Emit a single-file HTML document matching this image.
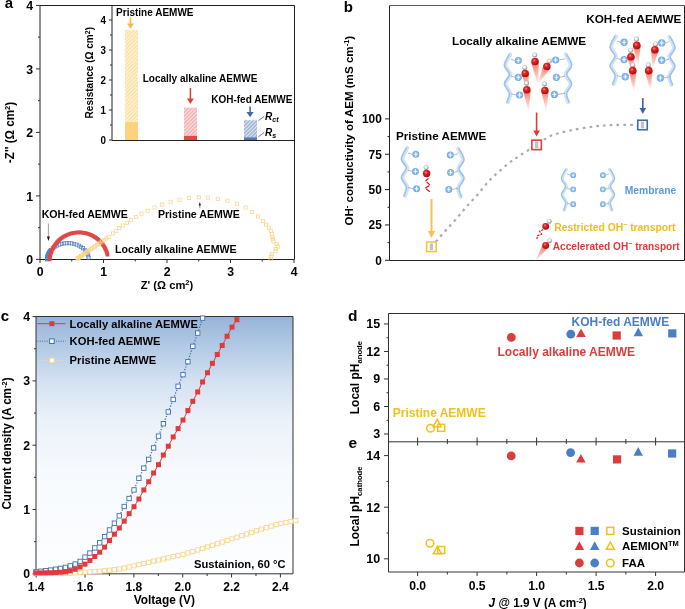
<!DOCTYPE html>
<html><head><meta charset="utf-8"><style>
html,body{margin:0;padding:0;background:#fff;overflow:hidden;}
svg{display:block;will-change:transform;}
text{font-family:"Liberation Sans",sans-serif;font-weight:bold;}
</style></head><body>
<svg width="685" height="609" viewBox="0 0 685 609">
<rect width="685" height="609" fill="#fff"/>
<defs>
<pattern id="hatchY" patternUnits="userSpaceOnUse" width="2.6" height="3" patternTransform="rotate(45)">
<rect width="3" height="3" fill="#fde3a6"/><rect width="0.9" height="3" fill="#fff6e4"/></pattern>
<pattern id="hatchR" patternUnits="userSpaceOnUse" width="2.6" height="3" patternTransform="rotate(45)">
<rect width="3" height="3" fill="#f3b4b4"/><rect width="0.9" height="3" fill="#fce8e8"/></pattern>
<pattern id="hatchB" patternUnits="userSpaceOnUse" width="2.6" height="3" patternTransform="rotate(45)">
<rect width="3" height="3" fill="#a5b8d8"/><rect width="0.9" height="3" fill="#e2e9f4"/></pattern>
<linearGradient id="bgC" x1="0" y1="0" x2="0" y2="1">
<stop offset="0" stop-color="#96b4d8"/><stop offset="0.12" stop-color="#b3cae5"/><stop offset="0.25" stop-color="#d3e1f1"/><stop offset="0.4" stop-color="#ebf1f9"/><stop offset="0.6" stop-color="#f6f9fd"/><stop offset="1" stop-color="#fdfeff"/></linearGradient>
<radialGradient id="sph" cx="0.4" cy="0.35" r="0.65">
<stop offset="0" stop-color="#ff8a8a"/><stop offset="0.35" stop-color="#e32222"/><stop offset="0.85" stop-color="#c01010"/><stop offset="1" stop-color="#8a0a0a"/></radialGradient>
<radialGradient id="hat" cx="0.42" cy="0.35" r="0.65">
<stop offset="0" stop-color="#ffffff"/><stop offset="0.4" stop-color="#f2f2f2"/><stop offset="0.75" stop-color="#bdbdbd"/><stop offset="1" stop-color="#707070"/></radialGradient>
<radialGradient id="plus" cx="0.5" cy="0.5" r="0.5">
<stop offset="0" stop-color="#92c0ef"/><stop offset="0.75" stop-color="#7cb2e9"/><stop offset="1" stop-color="#72aae5"/></radialGradient>
<linearGradient id="cone" x1="0" y1="0" x2="0" y2="1">
<stop offset="0" stop-color="#f26a50" stop-opacity="0.85"/><stop offset="1" stop-color="#f8a090" stop-opacity="0"/></linearGradient>
<linearGradient id="strandL" x1="0" y1="0" x2="1" y2="0">
<stop offset="0" stop-color="#5a98dc"/><stop offset="1" stop-color="#d4e5f7"/></linearGradient>
<linearGradient id="strandR" x1="1" y1="0" x2="0" y2="0">
<stop offset="0" stop-color="#5a98dc"/><stop offset="1" stop-color="#d4e5f7"/></linearGradient>
</defs>
<text x="4.8" y="8" font-size="15" text-anchor="start" fill="#000" >a</text>
<g stroke="#222" fill="none" stroke-width="1">
<path d="M40,5.5 H294.5 V259.5 H40 Z" />
</g>
<line x1="36" y1="259.4" x2="40" y2="259.4" stroke="#333" stroke-width="1" />
<text transform="translate(33.2,264) scale(1,1.08)" x="0" y="0" font-size="12.3" text-anchor="end" fill="#000" >0</text>
<line x1="36" y1="195.9" x2="40" y2="195.9" stroke="#333" stroke-width="1" />
<text transform="translate(33.2,200.5) scale(1,1.08)" x="0" y="0" font-size="12.3" text-anchor="end" fill="#000" >1</text>
<line x1="36" y1="132.4" x2="40" y2="132.4" stroke="#333" stroke-width="1" />
<text transform="translate(33.2,137) scale(1,1.08)" x="0" y="0" font-size="12.3" text-anchor="end" fill="#000" >2</text>
<line x1="36" y1="68.9" x2="40" y2="68.9" stroke="#333" stroke-width="1" />
<text transform="translate(33.2,73.5) scale(1,1.08)" x="0" y="0" font-size="12.3" text-anchor="end" fill="#000" >3</text>
<line x1="36" y1="5.4" x2="40" y2="5.4" stroke="#333" stroke-width="1" />
<text transform="translate(33.2,10) scale(1,1.08)" x="0" y="0" font-size="12.3" text-anchor="end" fill="#000" >4</text>
<line x1="38" y1="227.65" x2="40" y2="227.65" stroke="#333" stroke-width="1" />
<line x1="38" y1="164.15" x2="40" y2="164.15" stroke="#333" stroke-width="1" />
<line x1="38" y1="100.65" x2="40" y2="100.65" stroke="#333" stroke-width="1" />
<line x1="38" y1="37.15" x2="40" y2="37.15" stroke="#333" stroke-width="1" />
<line x1="40" y1="259.5" x2="40" y2="263" stroke="#333" stroke-width="1" />
<text transform="translate(40.2,275.6) scale(1,1.08)" x="0" y="0" font-size="12.3" text-anchor="middle" fill="#000" >0</text>
<line x1="103.5" y1="259.5" x2="103.5" y2="263" stroke="#333" stroke-width="1" />
<text transform="translate(103.7,275.6) scale(1,1.08)" x="0" y="0" font-size="12.3" text-anchor="middle" fill="#000" >1</text>
<line x1="167" y1="259.5" x2="167" y2="263" stroke="#333" stroke-width="1" />
<text transform="translate(167.2,275.6) scale(1,1.08)" x="0" y="0" font-size="12.3" text-anchor="middle" fill="#000" >2</text>
<line x1="230.5" y1="259.5" x2="230.5" y2="263" stroke="#333" stroke-width="1" />
<text transform="translate(230.7,275.6) scale(1,1.08)" x="0" y="0" font-size="12.3" text-anchor="middle" fill="#000" >3</text>
<line x1="294" y1="259.5" x2="294" y2="263" stroke="#333" stroke-width="1" />
<text transform="translate(294.2,275.6) scale(1,1.08)" x="0" y="0" font-size="12.3" text-anchor="middle" fill="#000" >4</text>
<line x1="71.75" y1="259.5" x2="71.75" y2="261.5" stroke="#333" stroke-width="1" />
<line x1="135.25" y1="259.5" x2="135.25" y2="261.5" stroke="#333" stroke-width="1" />
<line x1="198.75" y1="259.5" x2="198.75" y2="261.5" stroke="#333" stroke-width="1" />
<line x1="262.25" y1="259.5" x2="262.25" y2="261.5" stroke="#333" stroke-width="1" />
<text x="167" y="289" font-size="11.2" text-anchor="middle" fill="#000" >Z' (Ω cm<tspan dy="-4" font-size="7.5">2</tspan><tspan dy="4">)</tspan></text>
<text x="0" y="0" font-size="11.7" text-anchor="middle" fill="#000" transform="translate(13.9,132.5) rotate(-90) scale(1,1.08)">-Z'' (Ω cm<tspan dy="-4" font-size="7.5">2</tspan><tspan dy="4">)</tspan></text>
<g fill="none" stroke="#5080c6" stroke-width="0.7">
<rect x="45.51" y="257.8" width="3.2" height="3.2"/>
<rect x="45.53" y="257.1" width="3.2" height="3.2"/>
<rect x="45.59" y="256.4" width="3.2" height="3.2"/>
<rect x="45.68" y="255.71" width="3.2" height="3.2"/>
<rect x="45.82" y="255.02" width="3.2" height="3.2"/>
<rect x="45.99" y="254.34" width="3.2" height="3.2"/>
<rect x="46.19" y="253.67" width="3.2" height="3.2"/>
<rect x="46.43" y="253.02" width="3.2" height="3.2"/>
<rect x="46.71" y="252.37" width="3.2" height="3.2"/>
<rect x="47.01" y="251.74" width="3.2" height="3.2"/>
<rect x="47.35" y="251.13" width="3.2" height="3.2"/>
<rect x="47.71" y="250.53" width="3.2" height="3.2"/>
<rect x="48.1" y="249.95" width="3.2" height="3.2"/>
<rect x="48.52" y="249.39" width="3.2" height="3.2"/>
<rect x="48.96" y="248.84" width="3.2" height="3.2"/>
<rect x="49.42" y="248.32" width="3.2" height="3.2"/>
<rect x="51.24" y="246.6" width="3.2" height="3.2"/>
<rect x="53.27" y="245.14" width="3.2" height="3.2"/>
<rect x="55.46" y="243.94" width="3.2" height="3.2"/>
<rect x="57.77" y="242.99" width="3.2" height="3.2"/>
<rect x="60.16" y="242.28" width="3.2" height="3.2"/>
<rect x="62.62" y="241.81" width="3.2" height="3.2"/>
<rect x="65.1" y="241.57" width="3.2" height="3.2"/>
<rect x="67.6" y="241.57" width="3.2" height="3.2"/>
<rect x="70.09" y="241.81" width="3.2" height="3.2"/>
<rect x="72.54" y="242.28" width="3.2" height="3.2"/>
<rect x="74.94" y="242.99" width="3.2" height="3.2"/>
<rect x="77.25" y="243.95" width="3.2" height="3.2"/>
<rect x="79.44" y="245.16" width="3.2" height="3.2"/>
<rect x="81.46" y="246.62" width="3.2" height="3.2"/>
<rect x="83.28" y="248.34" width="3.2" height="3.2"/>
<rect x="84.3" y="249.57" width="3.2" height="3.2"/>
<rect x="85.19" y="250.89" width="3.2" height="3.2"/>
<rect x="85.94" y="252.31" width="3.2" height="3.2"/>
<rect x="86.53" y="253.8" width="3.2" height="3.2"/>
<rect x="87.03" y="255.93" width="3.2" height="3.2"/>
</g>
<g fill="#e04848">
<rect x="47.92" y="257.6" width="3.6" height="3.6"/>
<rect x="48.07" y="256.13" width="3.6" height="3.6"/>
<rect x="48.3" y="254.67" width="3.6" height="3.6"/>
<rect x="48.61" y="253.23" width="3.6" height="3.6"/>
<rect x="48.98" y="251.8" width="3.6" height="3.6"/>
<rect x="49.43" y="250.39" width="3.6" height="3.6"/>
<rect x="49.95" y="249.01" width="3.6" height="3.6"/>
<rect x="50.53" y="247.65" width="3.6" height="3.6"/>
<rect x="51.19" y="246.33" width="3.6" height="3.6"/>
<rect x="51.91" y="245.04" width="3.6" height="3.6"/>
<rect x="52.69" y="243.78" width="3.6" height="3.6"/>
<rect x="53.54" y="242.57" width="3.6" height="3.6"/>
<rect x="54.44" y="241.4" width="3.6" height="3.6"/>
<rect x="55.4" y="240.28" width="3.6" height="3.6"/>
<rect x="56.42" y="239.21" width="3.6" height="3.6"/>
<rect x="57.49" y="238.2" width="3.6" height="3.6"/>
<rect x="58.61" y="237.23" width="3.6" height="3.6"/>
<rect x="59.78" y="236.33" width="3.6" height="3.6"/>
<rect x="60.99" y="235.48" width="3.6" height="3.6"/>
<rect x="62.24" y="234.7" width="3.6" height="3.6"/>
<rect x="63.53" y="233.98" width="3.6" height="3.6"/>
<rect x="64.86" y="233.33" width="3.6" height="3.6"/>
<rect x="66.21" y="232.74" width="3.6" height="3.6"/>
<rect x="67.6" y="232.22" width="3.6" height="3.6"/>
<rect x="69.01" y="231.78" width="3.6" height="3.6"/>
<rect x="70.43" y="231.4" width="3.6" height="3.6"/>
<rect x="71.88" y="231.1" width="3.6" height="3.6"/>
<rect x="73.34" y="230.87" width="3.6" height="3.6"/>
<rect x="74.81" y="230.71" width="3.6" height="3.6"/>
<rect x="76.28" y="230.63" width="3.6" height="3.6"/>
<rect x="77.76" y="230.62" width="3.6" height="3.6"/>
<rect x="79.24" y="230.68" width="3.6" height="3.6"/>
<rect x="80.71" y="230.82" width="3.6" height="3.6"/>
<rect x="82.17" y="231.04" width="3.6" height="3.6"/>
<rect x="83.62" y="231.32" width="3.6" height="3.6"/>
<rect x="85.05" y="231.68" width="3.6" height="3.6"/>
<rect x="86.46" y="232.12" width="3.6" height="3.6"/>
<rect x="87.85" y="232.62" width="3.6" height="3.6"/>
<rect x="89.21" y="233.19" width="3.6" height="3.6"/>
<rect x="90.55" y="233.83" width="3.6" height="3.6"/>
<rect x="91.84" y="234.53" width="3.6" height="3.6"/>
<rect x="93.11" y="235.3" width="3.6" height="3.6"/>
<rect x="94.33" y="236.13" width="3.6" height="3.6"/>
<rect x="95.5" y="237.02" width="3.6" height="3.6"/>
<rect x="96.64" y="237.97" width="3.6" height="3.6"/>
<rect x="97.72" y="238.98" width="3.6" height="3.6"/>
<rect x="98.75" y="240.04" width="3.6" height="3.6"/>
<rect x="99.72" y="241.15" width="3.6" height="3.6"/>
<rect x="100.64" y="242.3" width="3.6" height="3.6"/>
<rect x="101.5" y="243.51" width="3.6" height="3.6"/>
<rect x="102.3" y="244.75" width="3.6" height="3.6"/>
<rect x="103.03" y="246.03" width="3.6" height="3.6"/>
<rect x="103.7" y="247.35" width="3.6" height="3.6"/>
<rect x="104.3" y="248.7" width="3.6" height="3.6"/>
<rect x="104.84" y="250.07" width="3.6" height="3.6"/>
<rect x="105.3" y="251.48" width="3.6" height="3.6"/>
<rect x="105.69" y="252.9" width="3.6" height="3.6"/>
</g>
<g fill="none" stroke="#f8d68c" stroke-width="0.75">
<rect x="75.9" y="257" width="3.2" height="3.2"/>
<rect x="76.56" y="256.54" width="3.2" height="3.2"/>
<rect x="77.25" y="256.06" width="3.2" height="3.2"/>
<rect x="77.98" y="255.55" width="3.2" height="3.2"/>
<rect x="78.75" y="255.01" width="3.2" height="3.2"/>
<rect x="79.56" y="254.44" width="3.2" height="3.2"/>
<rect x="80.42" y="253.85" width="3.2" height="3.2"/>
<rect x="81.32" y="253.21" width="3.2" height="3.2"/>
<rect x="82.28" y="252.55" width="3.2" height="3.2"/>
<rect x="83.28" y="251.85" width="3.2" height="3.2"/>
<rect x="84.35" y="251.1" width="3.2" height="3.2"/>
<rect x="85.47" y="250.32" width="3.2" height="3.2"/>
<rect x="86.65" y="249.5" width="3.2" height="3.2"/>
<rect x="87.89" y="248.63" width="3.2" height="3.2"/>
<rect x="89.21" y="247.71" width="3.2" height="3.2"/>
<rect x="90.6" y="246.74" width="3.2" height="3.2"/>
<rect x="92.06" y="245.72" width="3.2" height="3.2"/>
<rect x="93.61" y="244.64" width="3.2" height="3.2"/>
<rect x="95.24" y="243.5" width="3.2" height="3.2"/>
<rect x="96.96" y="242.3" width="3.2" height="3.2"/>
<rect x="98.77" y="241.03" width="3.2" height="3.2"/>
<rect x="100.68" y="239.7" width="3.2" height="3.2"/>
<rect x="102.7" y="238.29" width="3.2" height="3.2"/>
<rect x="104.83" y="236.8" width="3.2" height="3.2"/>
<rect x="107.08" y="235.23" width="3.2" height="3.2"/>
<rect x="111.6" y="231.8" width="3.2" height="3.2"/>
<rect x="114.7" y="229.3" width="3.2" height="3.2"/>
<rect x="117.6" y="226.6" width="3.2" height="3.2"/>
<rect x="121.3" y="223.9" width="3.2" height="3.2"/>
<rect x="125.2" y="221.2" width="3.2" height="3.2"/>
<rect x="129.3" y="218.6" width="3.2" height="3.2"/>
<rect x="134.4" y="215.4" width="3.2" height="3.2"/>
<rect x="139.8" y="212" width="3.2" height="3.2"/>
<rect x="146" y="209.1" width="3.2" height="3.2"/>
<rect x="153" y="205.9" width="3.2" height="3.2"/>
<rect x="160.7" y="203" width="3.2" height="3.2"/>
<rect x="169" y="200.2" width="3.2" height="3.2"/>
<rect x="178" y="198.2" width="3.2" height="3.2"/>
<rect x="187.4" y="196.3" width="3.2" height="3.2"/>
<rect x="197.3" y="195.7" width="3.2" height="3.2"/>
<rect x="206.4" y="196" width="3.2" height="3.2"/>
<rect x="216.2" y="197.2" width="3.2" height="3.2"/>
<rect x="225.9" y="199.2" width="3.2" height="3.2"/>
<rect x="235.2" y="202.1" width="3.2" height="3.2"/>
<rect x="244.1" y="206" width="3.2" height="3.2"/>
<rect x="250.6" y="210.4" width="3.2" height="3.2"/>
<rect x="256.4" y="214.9" width="3.2" height="3.2"/>
<rect x="261.2" y="219.2" width="3.2" height="3.2"/>
<rect x="264.6" y="223" width="3.2" height="3.2"/>
<rect x="267.3" y="226.1" width="3.2" height="3.2"/>
<rect x="269.2" y="229.2" width="3.2" height="3.2"/>
<rect x="270.4" y="232.4" width="3.2" height="3.2"/>
<rect x="270.7" y="235.3" width="3.2" height="3.2"/>
<rect x="271.5" y="237.6" width="3.2" height="3.2"/>
<rect x="271.9" y="239.9" width="3.2" height="3.2"/>
<rect x="275" y="242.5" width="3.2" height="3.2"/>
<rect x="276.1" y="244.8" width="3.2" height="3.2"/>
<rect x="274.2" y="247.4" width="3.2" height="3.2"/>
<rect x="273.8" y="249.7" width="3.2" height="3.2"/>
<rect x="270.4" y="252.5" width="3.2" height="3.2"/>
<rect x="269.6" y="254.8" width="3.2" height="3.2"/>
<rect x="269" y="257.1" width="3.2" height="3.2"/>
</g>
<text x="41.7" y="218" font-size="10.6" text-anchor="start" fill="#000" >KOH-fed AEMWE</text>
<text x="157.9" y="217.7" font-size="10.6" text-anchor="start" fill="#000" >Pristine AEMWE</text>
<text x="115.1" y="253.3" font-size="10.6" text-anchor="start" fill="#000" >Locally alkaline AEMWE</text>
<line x1="48.4" y1="223.5" x2="48.4" y2="237" stroke="#555" stroke-width="0.55" />
<path d="M46.9,236.5 L49.9,236.5 L48.4,241 Z" fill="#111"/>
<line x1="199.8" y1="205" x2="199.8" y2="208.4" stroke="#444" stroke-width="0.6" />
<path d="M198.6,205.5 L201,205.5 L199.8,202 Z" fill="#222"/>
<rect x="112" y="6" width="182" height="134" fill="#fff"/>
<path d="M112,5.5 V140.5 H294.5" stroke="#222" stroke-width="1" fill="none"/>
<line x1="109" y1="140" x2="112" y2="140" stroke="#333" stroke-width="1" />
<text transform="translate(106,143.8) scale(1,1.06)" x="0" y="0" font-size="9.8" text-anchor="end" fill="#000" >0</text>
<line x1="109" y1="110" x2="112" y2="110" stroke="#333" stroke-width="1" />
<text transform="translate(106,113.8) scale(1,1.06)" x="0" y="0" font-size="9.8" text-anchor="end" fill="#000" >1</text>
<line x1="109" y1="80" x2="112" y2="80" stroke="#333" stroke-width="1" />
<text transform="translate(106,83.8) scale(1,1.06)" x="0" y="0" font-size="9.8" text-anchor="end" fill="#000" >2</text>
<line x1="109" y1="50" x2="112" y2="50" stroke="#333" stroke-width="1" />
<text transform="translate(106,53.8) scale(1,1.06)" x="0" y="0" font-size="9.8" text-anchor="end" fill="#000" >3</text>
<line x1="109" y1="20" x2="112" y2="20" stroke="#333" stroke-width="1" />
<text transform="translate(106,23.8) scale(1,1.06)" x="0" y="0" font-size="9.8" text-anchor="end" fill="#000" >4</text>
<line x1="110" y1="125" x2="112" y2="125" stroke="#333" stroke-width="1" />
<line x1="110" y1="95" x2="112" y2="95" stroke="#333" stroke-width="1" />
<line x1="110" y1="65" x2="112" y2="65" stroke="#333" stroke-width="1" />
<line x1="110" y1="35" x2="112" y2="35" stroke="#333" stroke-width="1" />
<text x="0" y="0" font-size="10" text-anchor="middle" fill="#000" transform="translate(93.2,72.7) rotate(-90)">Resistance (Ω cm<tspan dy="-3.5" font-size="7">2</tspan><tspan dy="3.5">)</tspan></text>
<rect x="125" y="29.9" width="13" height="92.1" fill="url(#hatchY)"/>
<rect x="125" y="122" width="13" height="18" fill="#fcd37c"/>
<rect x="184" y="107.6" width="13" height="28.2" fill="url(#hatchR)"/>
<rect x="184" y="135.8" width="13" height="4.2" fill="#e04848"/>
<rect x="244" y="120.2" width="13" height="17.1" fill="url(#hatchB)"/>
<rect x="244" y="137.3" width="13" height="2.7" fill="#5577ad"/>
<text x="116.1" y="16.1" font-size="10" text-anchor="start" fill="#000" >Pristine AEMWE</text>
<text x="142.7" y="81.8" font-size="10" text-anchor="start" fill="#000" >Locally alkaline AEMWE</text>
<text x="211.2" y="102.6" font-size="10" text-anchor="start" fill="#000" >KOH-fed AEMWE</text>
<line x1="130.5" y1="17.5" x2="130.5" y2="24.1" stroke="#f6b93b" stroke-width="1.5" />
<path d="M127.1,23.6 L133.9,23.6 L130.5,28.8 Z" fill="#f6b93b"/>
<line x1="190.4" y1="88" x2="190.4" y2="99" stroke="#e03c3c" stroke-width="1.5" />
<path d="M187,98.5 L193.8,98.5 L190.4,104 Z" fill="#e03c3c"/>
<line x1="250.1" y1="106.5" x2="250.1" y2="112.6" stroke="#3f6aa8" stroke-width="1.5" />
<path d="M246.5,112.1 L253.7,112.1 L250.1,117.3 Z" fill="#3f6aa8"/>
<text x="265" y="119.5" font-size="10" text-anchor="start" fill="#000" font-style="italic">R<tspan font-size="7" dy="2">ct</tspan></text>
<text x="265" y="136.2" font-size="10" text-anchor="start" fill="#000" font-style="italic">R<tspan font-size="7" dy="2">s</tspan></text>
<line x1="258.4" y1="120.7" x2="264" y2="116.5" stroke="#222" stroke-width="0.6" />
<line x1="258.4" y1="136.8" x2="264" y2="132.6" stroke="#222" stroke-width="0.6" />
<text x="343.8" y="12.2" font-size="15" text-anchor="start" fill="#000" >b</text>
<path d="M684.5,5.5 V260.5 H389.5 V5.5" stroke="#222" stroke-width="1" fill="none"/>
<line x1="389.5" y1="5.5" x2="684.5" y2="5.5" stroke="#5a5a5a" stroke-width="1" />
<line x1="385" y1="260.3" x2="389.5" y2="260.3" stroke="#222" stroke-width="1" />
<text transform="translate(381.8,264.6) scale(1,1.08)" x="0" y="0" font-size="11.9" text-anchor="end" fill="#000" >0</text>
<line x1="385" y1="224.95" x2="389.5" y2="224.95" stroke="#222" stroke-width="1" />
<text transform="translate(381.8,229.25) scale(1,1.08)" x="0" y="0" font-size="11.9" text-anchor="end" fill="#000" >25</text>
<line x1="385" y1="189.6" x2="389.5" y2="189.6" stroke="#222" stroke-width="1" />
<text transform="translate(381.8,193.9) scale(1,1.08)" x="0" y="0" font-size="11.9" text-anchor="end" fill="#000" >50</text>
<line x1="385" y1="154.25" x2="389.5" y2="154.25" stroke="#222" stroke-width="1" />
<text transform="translate(381.8,158.55) scale(1,1.08)" x="0" y="0" font-size="11.9" text-anchor="end" fill="#000" >75</text>
<line x1="385" y1="118.9" x2="389.5" y2="118.9" stroke="#222" stroke-width="1" />
<text transform="translate(381.8,123.2) scale(1,1.08)" x="0" y="0" font-size="11.9" text-anchor="end" fill="#000" >100</text>
<line x1="387.5" y1="242.62" x2="389.5" y2="242.62" stroke="#222" stroke-width="1" />
<line x1="387.5" y1="207.28" x2="389.5" y2="207.28" stroke="#222" stroke-width="1" />
<line x1="387.5" y1="171.93" x2="389.5" y2="171.93" stroke="#222" stroke-width="1" />
<line x1="387.5" y1="136.58" x2="389.5" y2="136.58" stroke="#222" stroke-width="1" />
<text x="0" y="0" font-size="11.6" text-anchor="middle" fill="#000" transform="translate(353.3,130.7) rotate(-90)">OH<tspan dy="-4" font-size="7.5">-</tspan><tspan dy="4"> conductivity of AEM (mS cm</tspan><tspan dy="-4" font-size="7.5">-1</tspan><tspan dy="4">)</tspan></text>
<path d="M431.4,246.8 C432.43,245.6 435,242.57 437.6,239.6 C440.2,236.63 443.77,232.6 447,229 C450.23,225.4 453.67,221.83 457,218 C460.33,214.17 463.67,209.78 467,206 C470.33,202.22 473.5,199.3 477,195.3 C480.5,191.3 484.55,185.77 488,182 C491.45,178.23 494.2,175.87 497.7,172.7 C501.2,169.53 505.28,165.87 509,163 C512.72,160.13 515.4,158.52 520,155.5 C524.6,152.48 531.53,148.15 536.6,144.9 C541.67,141.65 544.83,138.4 550.4,136 C555.97,133.6 562.6,132.1 570,130.5 C577.4,128.9 587.3,127.32 594.8,126.4 C602.3,125.48 607.05,125.23 615,125 C622.95,124.77 637.92,125 642.5,125" stroke="#aaaaaa" stroke-width="2.2" fill="none" stroke-dasharray="2.6 4.2"/>
<rect x="426.65" y="242.05" width="9.5" height="9.5" fill="#fff" stroke="#f9c24b" stroke-width="1.6"/>
<rect x="429.8" y="244.2" width="3.2" height="5.2" fill="#c4c4c4"/>
<line x1="429.8" y1="244" x2="433" y2="244" stroke="#999" stroke-width="0.6" />
<line x1="429.8" y1="249.6" x2="433" y2="249.6" stroke="#999" stroke-width="0.6" />
<rect x="531.85" y="140.15" width="9.5" height="9.5" fill="#fff" stroke="#df4040" stroke-width="1.6"/>
<rect x="535" y="142.3" width="3.2" height="5.2" fill="#c4c4c4"/>
<line x1="535" y1="142.1" x2="538.2" y2="142.1" stroke="#999" stroke-width="0.6" />
<line x1="535" y1="147.7" x2="538.2" y2="147.7" stroke="#999" stroke-width="0.6" />
<rect x="637.75" y="120.25" width="9.5" height="9.5" fill="#fff" stroke="#3f6aa8" stroke-width="1.6"/>
<rect x="640.9" y="122.4" width="3.2" height="5.2" fill="#c4c4c4"/>
<line x1="640.9" y1="122.2" x2="644.1" y2="122.2" stroke="#999" stroke-width="0.6" />
<line x1="640.9" y1="127.8" x2="644.1" y2="127.8" stroke="#999" stroke-width="0.6" />
<line x1="431.5" y1="199" x2="431.5" y2="231.5" stroke="#f9c24b" stroke-width="2" />
<path d="M427.9,231 L435.1,231 L431.5,238 Z" fill="#f9c24b"/>
<line x1="536.6" y1="112.5" x2="536.6" y2="131" stroke="#df3a3a" stroke-width="1.6" />
<path d="M533.3,130.5 L539.9,130.5 L536.6,136.5 Z" fill="#df3a3a"/>
<line x1="642.8" y1="98" x2="642.8" y2="108.5" stroke="#3c64a0" stroke-width="1.6" />
<path d="M639.5,108 L646.1,108 L642.8,114 Z" fill="#3c64a0"/>
<path d="M407.4,148 C406.57,149.83 402.4,155.67 402.4,159 C402.4,162.33 407.4,164.92 407.4,168 C407.4,171.08 402.4,174.33 402.4,177.5 C402.4,180.67 406.98,183.92 407.4,187 C407.82,190.08 405.32,194.5 404.9,196" stroke="#d2e3f5" stroke-width="3.8" fill="none" stroke-linecap="round"/>
<path d="M407.4,148 C406.57,149.83 402.4,155.67 402.4,159 C402.4,162.33 407.4,164.92 407.4,168 C407.4,171.08 402.4,174.33 402.4,177.5 C402.4,180.67 406.98,183.92 407.4,187 C407.82,190.08 405.32,194.5 404.9,196" stroke="#98c2ec" stroke-width="1.4" fill="none" stroke-linecap="round" transform="translate(-1,0)"/>
<path d="M458,148.8 C458.83,150.63 463,156.47 463,159.8 C463,163.13 458,165.72 458,168.8 C458,171.88 463,175.13 463,178.3 C463,181.47 458.42,184.72 458,187.8 C457.58,190.88 460.08,195.3 460.5,196.8" stroke="#d2e3f5" stroke-width="3.8" fill="none" stroke-linecap="round"/>
<path d="M458,148.8 C458.83,150.63 463,156.47 463,159.8 C463,163.13 458,165.72 458,168.8 C458,171.88 463,175.13 463,178.3 C463,181.47 458.42,184.72 458,187.8 C457.58,190.88 460.08,195.3 460.5,196.8" stroke="#98c2ec" stroke-width="1.4" fill="none" stroke-linecap="round" transform="translate(1,0)"/>
<line x1="408" y1="153.1" x2="412.3" y2="154.3" stroke="#888" stroke-width="0.6" />
<circle cx="415.8" cy="154.3" r="3.5" fill="url(#plus)"/>
<line x1="413.88" y1="154.3" x2="417.73" y2="154.3" stroke="#fff" stroke-width="0.9" />
<line x1="415.8" y1="151.92" x2="415.8" y2="156.68" stroke="#fff" stroke-width="0.9" />
<line x1="408" y1="170.2" x2="411.9" y2="171.4" stroke="#888" stroke-width="0.6" />
<circle cx="415.4" cy="171.4" r="3.5" fill="url(#plus)"/>
<line x1="413.47" y1="171.4" x2="417.32" y2="171.4" stroke="#fff" stroke-width="0.9" />
<line x1="415.4" y1="169.02" x2="415.4" y2="173.78" stroke="#fff" stroke-width="0.9" />
<line x1="408" y1="187.5" x2="413.1" y2="188.7" stroke="#888" stroke-width="0.6" />
<circle cx="416.6" cy="188.7" r="3.5" fill="url(#plus)"/>
<line x1="414.68" y1="188.7" x2="418.53" y2="188.7" stroke="#fff" stroke-width="0.9" />
<line x1="416.6" y1="186.32" x2="416.6" y2="191.08" stroke="#fff" stroke-width="0.9" />
<line x1="458" y1="153.8" x2="453.8" y2="155" stroke="#888" stroke-width="0.6" />
<circle cx="450.3" cy="155" r="3.5" fill="url(#plus)"/>
<line x1="448.38" y1="155" x2="452.23" y2="155" stroke="#fff" stroke-width="0.9" />
<line x1="450.3" y1="152.62" x2="450.3" y2="157.38" stroke="#fff" stroke-width="0.9" />
<line x1="458" y1="171.2" x2="454.1" y2="172.4" stroke="#888" stroke-width="0.6" />
<circle cx="450.6" cy="172.4" r="3.5" fill="url(#plus)"/>
<line x1="448.68" y1="172.4" x2="452.53" y2="172.4" stroke="#fff" stroke-width="0.9" />
<line x1="450.6" y1="170.02" x2="450.6" y2="174.78" stroke="#fff" stroke-width="0.9" />
<line x1="458" y1="188.2" x2="452.3" y2="189.4" stroke="#888" stroke-width="0.6" />
<circle cx="448.8" cy="189.4" r="3.5" fill="url(#plus)"/>
<line x1="446.88" y1="189.4" x2="450.73" y2="189.4" stroke="#fff" stroke-width="0.9" />
<line x1="448.8" y1="187.02" x2="448.8" y2="191.78" stroke="#fff" stroke-width="0.9" />
<circle cx="426.1" cy="167.6" r="2.3" fill="url(#hat)" stroke="#9a9a9a" stroke-width="0.35"/>
<circle cx="426.6" cy="173.5" r="3.7" fill="url(#sph)"/>
<line x1="428.1" y1="178.6" x2="425.9" y2="180.7" stroke="#e01c1c" stroke-width="1.3" stroke-linecap="round"/>
<line x1="427.1" y1="182.3" x2="429.5" y2="184.6" stroke="#e01c1c" stroke-width="1.3" stroke-linecap="round"/>
<line x1="428.9" y1="185.9" x2="425.7" y2="187.8" stroke="#e01c1c" stroke-width="1.3" stroke-linecap="round"/>
<line x1="426.6" y1="189.2" x2="429.6" y2="191.4" stroke="#e01c1c" stroke-width="1.3" stroke-linecap="round"/>
<path d="M510.4,54.3 C509.57,56.13 505.4,61.97 505.4,65.3 C505.4,68.63 510.4,71.22 510.4,74.3 C510.4,77.38 505.4,80.63 505.4,83.8 C505.4,86.97 509.98,90.22 510.4,93.3 C510.82,96.38 508.32,100.8 507.9,102.3" stroke="#d2e3f5" stroke-width="3.8" fill="none" stroke-linecap="round"/>
<path d="M510.4,54.3 C509.57,56.13 505.4,61.97 505.4,65.3 C505.4,68.63 510.4,71.22 510.4,74.3 C510.4,77.38 505.4,80.63 505.4,83.8 C505.4,86.97 509.98,90.22 510.4,93.3 C510.82,96.38 508.32,100.8 507.9,102.3" stroke="#98c2ec" stroke-width="1.4" fill="none" stroke-linecap="round" transform="translate(-1,0)"/>
<path d="M565.6,54.3 C566.43,56.13 570.6,61.97 570.6,65.3 C570.6,68.63 565.6,71.22 565.6,74.3 C565.6,77.38 570.6,80.63 570.6,83.8 C570.6,86.97 566.02,90.22 565.6,93.3 C565.18,96.38 567.68,100.8 568.1,102.3" stroke="#d2e3f5" stroke-width="3.8" fill="none" stroke-linecap="round"/>
<path d="M565.6,54.3 C566.43,56.13 570.6,61.97 570.6,65.3 C570.6,68.63 565.6,71.22 565.6,74.3 C565.6,77.38 570.6,80.63 570.6,83.8 C570.6,86.97 566.02,90.22 565.6,93.3 C565.18,96.38 567.68,100.8 568.1,102.3" stroke="#98c2ec" stroke-width="1.4" fill="none" stroke-linecap="round" transform="translate(1,0)"/>
<line x1="511" y1="59.3" x2="514.7" y2="60.5" stroke="#888" stroke-width="0.6" />
<circle cx="518.3" cy="60.5" r="3.6" fill="url(#plus)"/>
<line x1="516.32" y1="60.5" x2="520.28" y2="60.5" stroke="#fff" stroke-width="0.9" />
<line x1="518.3" y1="58.05" x2="518.3" y2="62.95" stroke="#fff" stroke-width="0.9" />
<line x1="511" y1="76.1" x2="514.7" y2="77.3" stroke="#888" stroke-width="0.6" />
<circle cx="518.3" cy="77.3" r="3.6" fill="url(#plus)"/>
<line x1="516.32" y1="77.3" x2="520.28" y2="77.3" stroke="#fff" stroke-width="0.9" />
<line x1="518.3" y1="74.85" x2="518.3" y2="79.75" stroke="#fff" stroke-width="0.9" />
<line x1="511" y1="93.8" x2="516" y2="95" stroke="#888" stroke-width="0.6" />
<circle cx="519.6" cy="95" r="3.6" fill="url(#plus)"/>
<line x1="517.62" y1="95" x2="521.58" y2="95" stroke="#fff" stroke-width="0.9" />
<line x1="519.6" y1="92.55" x2="519.6" y2="97.45" stroke="#fff" stroke-width="0.9" />
<line x1="565" y1="58.8" x2="559.3" y2="60" stroke="#888" stroke-width="0.6" />
<circle cx="555.7" cy="60" r="3.6" fill="url(#plus)"/>
<line x1="553.72" y1="60" x2="557.68" y2="60" stroke="#fff" stroke-width="0.9" />
<line x1="555.7" y1="57.55" x2="555.7" y2="62.45" stroke="#fff" stroke-width="0.9" />
<line x1="565" y1="76.1" x2="560" y2="77.3" stroke="#888" stroke-width="0.6" />
<circle cx="556.4" cy="77.3" r="3.6" fill="url(#plus)"/>
<line x1="554.42" y1="77.3" x2="558.38" y2="77.3" stroke="#fff" stroke-width="0.9" />
<line x1="556.4" y1="74.85" x2="556.4" y2="79.75" stroke="#fff" stroke-width="0.9" />
<line x1="565" y1="93.2" x2="558" y2="94.4" stroke="#888" stroke-width="0.6" />
<circle cx="554.4" cy="94.4" r="3.6" fill="url(#plus)"/>
<line x1="552.42" y1="94.4" x2="556.38" y2="94.4" stroke="#fff" stroke-width="0.9" />
<line x1="554.4" y1="91.95" x2="554.4" y2="96.85" stroke="#fff" stroke-width="0.9" />
<linearGradient id="cg338" gradientUnits="userSpaceOnUse" x1="535" y1="61.5" x2="538" y2="86"><stop offset="0" stop-color="#f06048" stop-opacity="0.9"/><stop offset="0.6" stop-color="#f7a090" stop-opacity="0.55"/><stop offset="1" stop-color="#fbc8bc" stop-opacity="0.05"/></linearGradient>
<path d="M531.13,61.97 L538.87,61.03 L538,86 Z" fill="url(#cg338)"/>
<linearGradient id="cg340" gradientUnits="userSpaceOnUse" x1="546.9" y1="66.4" x2="537.5" y2="85"><stop offset="0" stop-color="#f06048" stop-opacity="0.9"/><stop offset="0.6" stop-color="#f7a090" stop-opacity="0.55"/><stop offset="1" stop-color="#fbc8bc" stop-opacity="0.05"/></linearGradient>
<path d="M543.42,64.64 L550.38,68.16 L537.5,85 Z" fill="url(#cg340)"/>
<linearGradient id="cg342" gradientUnits="userSpaceOnUse" x1="525.2" y1="73.4" x2="528" y2="92"><stop offset="0" stop-color="#f06048" stop-opacity="0.9"/><stop offset="0.6" stop-color="#f7a090" stop-opacity="0.55"/><stop offset="1" stop-color="#fbc8bc" stop-opacity="0.05"/></linearGradient>
<path d="M521.34,73.98 L529.06,72.82 L528,92 Z" fill="url(#cg342)"/>
<linearGradient id="cg344" gradientUnits="userSpaceOnUse" x1="526.8" y1="89.8" x2="528.8" y2="112.6"><stop offset="0" stop-color="#f06048" stop-opacity="0.9"/><stop offset="0.6" stop-color="#f7a090" stop-opacity="0.55"/><stop offset="1" stop-color="#fbc8bc" stop-opacity="0.05"/></linearGradient>
<path d="M522.91,90.14 L530.69,89.46 L528.8,112.6 Z" fill="url(#cg344)"/>
<linearGradient id="cg346" gradientUnits="userSpaceOnUse" x1="544.9" y1="90.4" x2="546.3" y2="111.4"><stop offset="0" stop-color="#f06048" stop-opacity="0.9"/><stop offset="0.6" stop-color="#f7a090" stop-opacity="0.55"/><stop offset="1" stop-color="#fbc8bc" stop-opacity="0.05"/></linearGradient>
<path d="M541.01,90.66 L548.79,90.14 L546.3,111.4 Z" fill="url(#cg346)"/>
<circle cx="534.7" cy="55" r="2.3" fill="url(#hat)" stroke="#9a9a9a" stroke-width="0.35"/>
<circle cx="535" cy="61.5" r="3.7" fill="url(#sph)"/>
<circle cx="549.5" cy="61.1" r="2.3" fill="url(#hat)" stroke="#9a9a9a" stroke-width="0.35"/>
<circle cx="546.9" cy="66.4" r="3.7" fill="url(#sph)"/>
<circle cx="524.8" cy="67.5" r="2.3" fill="url(#hat)" stroke="#9a9a9a" stroke-width="0.35"/>
<circle cx="525.2" cy="73.4" r="3.7" fill="url(#sph)"/>
<circle cx="526.5" cy="83.2" r="2.3" fill="url(#hat)" stroke="#9a9a9a" stroke-width="0.35"/>
<circle cx="526.8" cy="89.8" r="3.7" fill="url(#sph)"/>
<circle cx="544.5" cy="83.9" r="2.3" fill="url(#hat)" stroke="#9a9a9a" stroke-width="0.35"/>
<circle cx="544.9" cy="90.4" r="3.7" fill="url(#sph)"/>
<path d="M616.1,36.2 C615.27,38.03 611.1,43.87 611.1,47.2 C611.1,50.53 616.1,53.12 616.1,56.2 C616.1,59.28 611.1,62.53 611.1,65.7 C611.1,68.87 615.68,72.12 616.1,75.2 C616.52,78.28 614.02,82.7 613.6,84.2" stroke="#d2e3f5" stroke-width="3.8" fill="none" stroke-linecap="round"/>
<path d="M616.1,36.2 C615.27,38.03 611.1,43.87 611.1,47.2 C611.1,50.53 616.1,53.12 616.1,56.2 C616.1,59.28 611.1,62.53 611.1,65.7 C611.1,68.87 615.68,72.12 616.1,75.2 C616.52,78.28 614.02,82.7 613.6,84.2" stroke="#98c2ec" stroke-width="1.4" fill="none" stroke-linecap="round" transform="translate(-1,0)"/>
<path d="M669,36.8 C669.83,38.63 674,44.47 674,47.8 C674,51.13 669,53.72 669,56.8 C669,59.88 674,63.13 674,66.3 C674,69.47 669.42,72.72 669,75.8 C668.58,78.88 671.08,83.3 671.5,84.8" stroke="#d2e3f5" stroke-width="3.8" fill="none" stroke-linecap="round"/>
<path d="M669,36.8 C669.83,38.63 674,44.47 674,47.8 C674,51.13 669,53.72 669,56.8 C669,59.88 674,63.13 674,66.3 C674,69.47 669.42,72.72 669,75.8 C668.58,78.88 671.08,83.3 671.5,84.8" stroke="#98c2ec" stroke-width="1.4" fill="none" stroke-linecap="round" transform="translate(1,0)"/>
<line x1="617" y1="41.1" x2="620.4" y2="42.3" stroke="#888" stroke-width="0.6" />
<circle cx="624.1" cy="42.3" r="3.7" fill="url(#plus)"/>
<line x1="622.07" y1="42.3" x2="626.13" y2="42.3" stroke="#fff" stroke-width="0.9" />
<line x1="624.1" y1="39.78" x2="624.1" y2="44.82" stroke="#fff" stroke-width="0.9" />
<line x1="617" y1="58.4" x2="620.4" y2="59.6" stroke="#888" stroke-width="0.6" />
<circle cx="624.1" cy="59.6" r="3.7" fill="url(#plus)"/>
<line x1="622.07" y1="59.6" x2="626.13" y2="59.6" stroke="#fff" stroke-width="0.9" />
<line x1="624.1" y1="57.08" x2="624.1" y2="62.12" stroke="#fff" stroke-width="0.9" />
<line x1="617" y1="75.6" x2="621.6" y2="76.8" stroke="#888" stroke-width="0.6" />
<circle cx="625.3" cy="76.8" r="3.7" fill="url(#plus)"/>
<line x1="623.26" y1="76.8" x2="627.33" y2="76.8" stroke="#fff" stroke-width="0.9" />
<line x1="625.3" y1="74.28" x2="625.3" y2="79.32" stroke="#fff" stroke-width="0.9" />
<line x1="669" y1="41.7" x2="665.4" y2="42.9" stroke="#888" stroke-width="0.6" />
<circle cx="661.7" cy="42.9" r="3.7" fill="url(#plus)"/>
<line x1="659.67" y1="42.9" x2="663.74" y2="42.9" stroke="#fff" stroke-width="0.9" />
<line x1="661.7" y1="40.38" x2="661.7" y2="45.42" stroke="#fff" stroke-width="0.9" />
<line x1="669" y1="59" x2="665.4" y2="60.2" stroke="#888" stroke-width="0.6" />
<circle cx="661.7" cy="60.2" r="3.7" fill="url(#plus)"/>
<line x1="659.67" y1="60.2" x2="663.74" y2="60.2" stroke="#fff" stroke-width="0.9" />
<line x1="661.7" y1="57.68" x2="661.7" y2="62.72" stroke="#fff" stroke-width="0.9" />
<line x1="669" y1="76.8" x2="664.1" y2="78" stroke="#888" stroke-width="0.6" />
<circle cx="660.4" cy="78" r="3.7" fill="url(#plus)"/>
<line x1="658.37" y1="78" x2="662.43" y2="78" stroke="#fff" stroke-width="0.9" />
<line x1="660.4" y1="75.48" x2="660.4" y2="80.52" stroke="#fff" stroke-width="0.9" />
<linearGradient id="cg386" gradientUnits="userSpaceOnUse" x1="636.8" y1="45.4" x2="638.2" y2="67"><stop offset="0" stop-color="#f06048" stop-opacity="0.9"/><stop offset="0.6" stop-color="#f7a090" stop-opacity="0.55"/><stop offset="1" stop-color="#fbc8bc" stop-opacity="0.05"/></linearGradient>
<path d="M632.91,45.65 L640.69,45.15 L638.2,67 Z" fill="url(#cg386)"/>
<linearGradient id="cg388" gradientUnits="userSpaceOnUse" x1="654.9" y1="49.7" x2="652.4" y2="69.4"><stop offset="0" stop-color="#f06048" stop-opacity="0.9"/><stop offset="0.6" stop-color="#f7a090" stop-opacity="0.55"/><stop offset="1" stop-color="#fbc8bc" stop-opacity="0.05"/></linearGradient>
<path d="M651.03,49.21 L658.77,50.19 L652.4,69.4 Z" fill="url(#cg388)"/>
<linearGradient id="cg390" gradientUnits="userSpaceOnUse" x1="630.9" y1="56.8" x2="632" y2="72"><stop offset="0" stop-color="#f06048" stop-opacity="0.9"/><stop offset="0.6" stop-color="#f7a090" stop-opacity="0.55"/><stop offset="1" stop-color="#fbc8bc" stop-opacity="0.05"/></linearGradient>
<path d="M627.01,57.08 L634.79,56.52 L632,72 Z" fill="url(#cg390)"/>
<linearGradient id="cg392" gradientUnits="userSpaceOnUse" x1="632.7" y1="70.6" x2="633.9" y2="92.8"><stop offset="0" stop-color="#f06048" stop-opacity="0.9"/><stop offset="0.6" stop-color="#f7a090" stop-opacity="0.55"/><stop offset="1" stop-color="#fbc8bc" stop-opacity="0.05"/></linearGradient>
<path d="M628.81,70.81 L636.59,70.39 L633.9,92.8 Z" fill="url(#cg392)"/>
<linearGradient id="cg394" gradientUnits="userSpaceOnUse" x1="648.7" y1="70.6" x2="650.6" y2="91.6"><stop offset="0" stop-color="#f06048" stop-opacity="0.9"/><stop offset="0.6" stop-color="#f7a090" stop-opacity="0.55"/><stop offset="1" stop-color="#fbc8bc" stop-opacity="0.05"/></linearGradient>
<path d="M644.82,70.95 L652.58,70.25 L650.6,91.6 Z" fill="url(#cg394)"/>
<circle cx="636.4" cy="39.2" r="2.4" fill="url(#hat)" stroke="#9a9a9a" stroke-width="0.35"/>
<circle cx="636.8" cy="45.4" r="3.8" fill="url(#sph)"/>
<circle cx="655.5" cy="44.2" r="2.4" fill="url(#hat)" stroke="#9a9a9a" stroke-width="0.35"/>
<circle cx="654.9" cy="49.7" r="3.8" fill="url(#sph)"/>
<circle cx="630.6" cy="50.3" r="2.4" fill="url(#hat)" stroke="#9a9a9a" stroke-width="0.35"/>
<circle cx="630.9" cy="56.8" r="3.8" fill="url(#sph)"/>
<circle cx="632.7" cy="65.1" r="2.4" fill="url(#hat)" stroke="#9a9a9a" stroke-width="0.35"/>
<circle cx="632.7" cy="70.6" r="3.8" fill="url(#sph)"/>
<circle cx="648.3" cy="64.9" r="2.4" fill="url(#hat)" stroke="#9a9a9a" stroke-width="0.35"/>
<circle cx="648.7" cy="70.6" r="3.8" fill="url(#sph)"/>
<text x="452.1" y="44.9" font-size="11.7" text-anchor="start" fill="#000" >Locally alkaline AEMWE</text>
<text x="586.3" y="22.7" font-size="11.7" text-anchor="start" fill="#000" >KOH-fed AEMWE</text>
<text x="395.9" y="139.9" font-size="11.7" text-anchor="start" fill="#000" >Pristine AEMWE</text>
<path d="M566.5,169.4 C565.79,170.96 562.25,175.92 562.25,178.75 C562.25,181.58 566.5,183.78 566.5,186.4 C566.5,189.02 562.25,191.78 562.25,194.47 C562.25,197.17 566.15,199.93 566.5,202.55 C566.85,205.17 564.73,208.92 564.38,210.2" stroke="#d2e3f5" stroke-width="3.23" fill="none" stroke-linecap="round"/>
<path d="M566.5,169.4 C565.79,170.96 562.25,175.92 562.25,178.75 C562.25,181.58 566.5,183.78 566.5,186.4 C566.5,189.02 562.25,191.78 562.25,194.47 C562.25,197.17 566.15,199.93 566.5,202.55 C566.85,205.17 564.73,208.92 564.38,210.2" stroke="#98c2ec" stroke-width="1.19" fill="none" stroke-linecap="round" transform="translate(-0.85,0)"/>
<path d="M609.5,169.4 C610.21,170.96 613.75,175.92 613.75,178.75 C613.75,181.58 609.5,183.78 609.5,186.4 C609.5,189.02 613.75,191.78 613.75,194.47 C613.75,197.17 609.85,199.93 609.5,202.55 C609.15,205.17 611.27,208.92 611.62,210.2" stroke="#d2e3f5" stroke-width="3.23" fill="none" stroke-linecap="round"/>
<path d="M609.5,169.4 C610.21,170.96 613.75,175.92 613.75,178.75 C613.75,181.58 609.5,183.78 609.5,186.4 C609.5,189.02 613.75,191.78 613.75,194.47 C613.75,197.17 609.85,199.93 609.5,202.55 C609.15,205.17 611.27,208.92 611.62,210.2" stroke="#98c2ec" stroke-width="1.19" fill="none" stroke-linecap="round" transform="translate(0.85,0)"/>
<line x1="567" y1="174" x2="570.3" y2="175.2" stroke="#888" stroke-width="0.6" />
<circle cx="573.2" cy="175.2" r="2.9" fill="url(#plus)"/>
<line x1="571.61" y1="175.2" x2="574.8" y2="175.2" stroke="#fff" stroke-width="0.7" />
<line x1="573.2" y1="173.23" x2="573.2" y2="177.17" stroke="#fff" stroke-width="0.7" />
<line x1="609" y1="174" x2="605.8" y2="175.2" stroke="#888" stroke-width="0.6" />
<circle cx="602.9" cy="175.2" r="2.9" fill="url(#plus)"/>
<line x1="601.3" y1="175.2" x2="604.5" y2="175.2" stroke="#fff" stroke-width="0.7" />
<line x1="602.9" y1="173.23" x2="602.9" y2="177.17" stroke="#fff" stroke-width="0.7" />
<line x1="567" y1="188.1" x2="570.3" y2="189.3" stroke="#888" stroke-width="0.6" />
<circle cx="573.2" cy="189.3" r="2.9" fill="url(#plus)"/>
<line x1="571.61" y1="189.3" x2="574.8" y2="189.3" stroke="#fff" stroke-width="0.7" />
<line x1="573.2" y1="187.33" x2="573.2" y2="191.27" stroke="#fff" stroke-width="0.7" />
<line x1="609" y1="188.1" x2="605.8" y2="189.3" stroke="#888" stroke-width="0.6" />
<circle cx="602.9" cy="189.3" r="2.9" fill="url(#plus)"/>
<line x1="601.3" y1="189.3" x2="604.5" y2="189.3" stroke="#fff" stroke-width="0.7" />
<line x1="602.9" y1="187.33" x2="602.9" y2="191.27" stroke="#fff" stroke-width="0.7" />
<line x1="567" y1="203" x2="570.3" y2="204.2" stroke="#888" stroke-width="0.6" />
<circle cx="573.2" cy="204.2" r="2.9" fill="url(#plus)"/>
<line x1="571.61" y1="204.2" x2="574.8" y2="204.2" stroke="#fff" stroke-width="0.7" />
<line x1="573.2" y1="202.23" x2="573.2" y2="206.17" stroke="#fff" stroke-width="0.7" />
<line x1="609" y1="203" x2="605.8" y2="204.2" stroke="#888" stroke-width="0.6" />
<circle cx="602.9" cy="204.2" r="2.9" fill="url(#plus)"/>
<line x1="601.3" y1="204.2" x2="604.5" y2="204.2" stroke="#fff" stroke-width="0.7" />
<line x1="602.9" y1="202.23" x2="602.9" y2="206.17" stroke="#fff" stroke-width="0.7" />
<text x="624.8" y="194" font-size="10.3" text-anchor="start" fill="#5b9ad8" >Membrane</text>
<path d="M543.2,229.6 L539.6,231.2 L541.6,234.2 L537.4,235.8 L536.8,240" stroke="#e01c1c" stroke-width="1.2" fill="none" stroke-dasharray="2.2 1.1"/>
<circle cx="549.3" cy="221.3" r="2.2" fill="url(#hat)" stroke="#9a9a9a" stroke-width="0.35"/>
<circle cx="545.7" cy="226.3" r="3.4" fill="url(#sph)"/>
<linearGradient id="cg441" gradientUnits="userSpaceOnUse" x1="545.7" y1="245.4" x2="534.4" y2="262.4"><stop offset="0" stop-color="#f06048" stop-opacity="0.9"/><stop offset="0.6" stop-color="#f7a090" stop-opacity="0.55"/><stop offset="1" stop-color="#fbc8bc" stop-opacity="0.05"/></linearGradient>
<path d="M543.04,243.63 L548.36,247.17 L534.4,262.4 Z" fill="url(#cg441)"/>
<circle cx="549.6" cy="240.7" r="2.2" fill="url(#hat)" stroke="#9a9a9a" stroke-width="0.35"/>
<circle cx="545.7" cy="245.4" r="3.4" fill="url(#sph)"/>
<text x="554.2" y="230.8" font-size="10.35" text-anchor="start" fill="#f0bc1c" >Restricted OH<tspan dy="-4" font-size="7">−</tspan><tspan dy="4"> transport</tspan></text>
<text x="552.8" y="250.2" font-size="10.15" text-anchor="start" fill="#e03a3a" >Accelerated OH<tspan dy="-4" font-size="7">−</tspan><tspan dy="4"> transport</tspan></text>
<text x="0.8" y="320.5" font-size="15" text-anchor="start" fill="#000" >c</text>
<rect x="36" y="316.5" width="257" height="257.3" fill="url(#bgC)"/>
<path d="M36,316.5 H293 V573.8 H36 Z" stroke="#333" stroke-width="1" fill="none"/>
<line x1="32.5" y1="573.8" x2="36" y2="573.8" stroke="#333" stroke-width="1" />
<text transform="translate(30,578.2) scale(1,1.08)" x="0" y="0" font-size="12.3" text-anchor="end" fill="#000" >0</text>
<line x1="34" y1="541.65" x2="36" y2="541.65" stroke="#333" stroke-width="1" />
<line x1="32.5" y1="509.5" x2="36" y2="509.5" stroke="#333" stroke-width="1" />
<text transform="translate(30,513.9) scale(1,1.08)" x="0" y="0" font-size="12.3" text-anchor="end" fill="#000" >1</text>
<line x1="34" y1="477.35" x2="36" y2="477.35" stroke="#333" stroke-width="1" />
<line x1="32.5" y1="445.2" x2="36" y2="445.2" stroke="#333" stroke-width="1" />
<text transform="translate(30,449.6) scale(1,1.08)" x="0" y="0" font-size="12.3" text-anchor="end" fill="#000" >2</text>
<line x1="34" y1="413.05" x2="36" y2="413.05" stroke="#333" stroke-width="1" />
<line x1="32.5" y1="380.9" x2="36" y2="380.9" stroke="#333" stroke-width="1" />
<text transform="translate(30,385.3) scale(1,1.08)" x="0" y="0" font-size="12.3" text-anchor="end" fill="#000" >3</text>
<line x1="34" y1="348.75" x2="36" y2="348.75" stroke="#333" stroke-width="1" />
<line x1="32.5" y1="316.6" x2="36" y2="316.6" stroke="#333" stroke-width="1" />
<text transform="translate(30,321) scale(1,1.08)" x="0" y="0" font-size="12.3" text-anchor="end" fill="#000" >4</text>
<line x1="36.2" y1="573.8" x2="36.2" y2="577.5" stroke="#333" stroke-width="1" />
<text transform="translate(36.2,590.6) scale(1,1.08)" x="0" y="0" font-size="12" text-anchor="middle" fill="#000" >1.4</text>
<line x1="60.62" y1="573.8" x2="60.62" y2="576" stroke="#333" stroke-width="1" />
<line x1="85.04" y1="573.8" x2="85.04" y2="577.5" stroke="#333" stroke-width="1" />
<text transform="translate(85.04,590.6) scale(1,1.08)" x="0" y="0" font-size="12" text-anchor="middle" fill="#000" >1.6</text>
<line x1="109.46" y1="573.8" x2="109.46" y2="576" stroke="#333" stroke-width="1" />
<line x1="133.88" y1="573.8" x2="133.88" y2="577.5" stroke="#333" stroke-width="1" />
<text transform="translate(133.88,590.6) scale(1,1.08)" x="0" y="0" font-size="12" text-anchor="middle" fill="#000" >1.8</text>
<line x1="158.3" y1="573.8" x2="158.3" y2="576" stroke="#333" stroke-width="1" />
<line x1="182.72" y1="573.8" x2="182.72" y2="577.5" stroke="#333" stroke-width="1" />
<text transform="translate(182.72,590.6) scale(1,1.08)" x="0" y="0" font-size="12" text-anchor="middle" fill="#000" >2.0</text>
<line x1="207.14" y1="573.8" x2="207.14" y2="576" stroke="#333" stroke-width="1" />
<line x1="231.56" y1="573.8" x2="231.56" y2="577.5" stroke="#333" stroke-width="1" />
<text transform="translate(231.56,590.6) scale(1,1.08)" x="0" y="0" font-size="12" text-anchor="middle" fill="#000" >2.2</text>
<line x1="255.98" y1="573.8" x2="255.98" y2="576" stroke="#333" stroke-width="1" />
<line x1="280.4" y1="573.8" x2="280.4" y2="577.5" stroke="#333" stroke-width="1" />
<text transform="translate(280.4,590.6) scale(1,1.08)" x="0" y="0" font-size="12" text-anchor="middle" fill="#000" >2.4</text>
<text transform="translate(164.3,603.8) scale(1,1.06)" x="0" y="0" font-size="11.9" text-anchor="middle" fill="#000" >Voltage (V)</text>
<text x="0" y="0" font-size="11.7" text-anchor="middle" fill="#000" transform="translate(11,443.5) rotate(-90) scale(1,1.08)">Current density (A cm<tspan dy="-4" font-size="7.5">-2</tspan><tspan dy="4">)</tspan></text>
<g clip-path="none">
<polyline points="36,573.5 40.9,573.47 45.8,573.44 50.7,573.41 55.6,573.38 60.5,573.36 65.4,573.33 70.3,573.28 75.2,572.91 80.1,572.54 85,572.18 89.9,571.86 94.8,571.55 99.7,571.19 104.6,570.71 109.5,570.22 114.4,569.64 119.3,569.04 124.2,568.01 129.1,566.99 134,565.84 138.9,564.66 143.8,563.49 148.7,562.31 153.6,561.17 158.5,560.04 163.4,558.91 168.3,557.79 173.2,556.66 178.1,555.53 183,554.4 187.9,552.93 192.8,551.46 197.7,549.99 202.6,548.45 207.5,546.86 212.4,545.26 217.3,543.67 222.2,542.07 227.1,540.47 232,538.87 236.9,537.23 241.8,535.6 246.7,533.97 251.6,532.33 256.5,530.7 261.4,529.07 266.3,527.61 271.2,526.18 276.1,524.74 281,523.41 285.9,522.46 290.8,521.51 295.7,520.6" fill="none" stroke="#f9dc9a" stroke-width="0.8" stroke-dasharray="1 1.5"/>
<g fill="#fff" stroke="#f8d68c" stroke-width="0.9">
<rect x="33.9" y="571.4" width="4.2" height="4.2"/>
<rect x="38.8" y="571.37" width="4.2" height="4.2"/>
<rect x="43.7" y="571.34" width="4.2" height="4.2"/>
<rect x="48.6" y="571.31" width="4.2" height="4.2"/>
<rect x="53.5" y="571.28" width="4.2" height="4.2"/>
<rect x="58.4" y="571.26" width="4.2" height="4.2"/>
<rect x="63.3" y="571.23" width="4.2" height="4.2"/>
<rect x="68.2" y="571.18" width="4.2" height="4.2"/>
<rect x="73.1" y="570.81" width="4.2" height="4.2"/>
<rect x="78" y="570.44" width="4.2" height="4.2"/>
<rect x="82.9" y="570.08" width="4.2" height="4.2"/>
<rect x="87.8" y="569.76" width="4.2" height="4.2"/>
<rect x="92.7" y="569.45" width="4.2" height="4.2"/>
<rect x="97.6" y="569.09" width="4.2" height="4.2"/>
<rect x="102.5" y="568.61" width="4.2" height="4.2"/>
<rect x="107.4" y="568.12" width="4.2" height="4.2"/>
<rect x="112.3" y="567.54" width="4.2" height="4.2"/>
<rect x="117.2" y="566.94" width="4.2" height="4.2"/>
<rect x="122.1" y="565.91" width="4.2" height="4.2"/>
<rect x="127" y="564.89" width="4.2" height="4.2"/>
<rect x="131.9" y="563.74" width="4.2" height="4.2"/>
<rect x="136.8" y="562.56" width="4.2" height="4.2"/>
<rect x="141.7" y="561.39" width="4.2" height="4.2"/>
<rect x="146.6" y="560.21" width="4.2" height="4.2"/>
<rect x="151.5" y="559.07" width="4.2" height="4.2"/>
<rect x="156.4" y="557.94" width="4.2" height="4.2"/>
<rect x="161.3" y="556.81" width="4.2" height="4.2"/>
<rect x="166.2" y="555.69" width="4.2" height="4.2"/>
<rect x="171.1" y="554.56" width="4.2" height="4.2"/>
<rect x="176" y="553.43" width="4.2" height="4.2"/>
<rect x="180.9" y="552.3" width="4.2" height="4.2"/>
<rect x="185.8" y="550.83" width="4.2" height="4.2"/>
<rect x="190.7" y="549.36" width="4.2" height="4.2"/>
<rect x="195.6" y="547.89" width="4.2" height="4.2"/>
<rect x="200.5" y="546.35" width="4.2" height="4.2"/>
<rect x="205.4" y="544.76" width="4.2" height="4.2"/>
<rect x="210.3" y="543.16" width="4.2" height="4.2"/>
<rect x="215.2" y="541.57" width="4.2" height="4.2"/>
<rect x="220.1" y="539.97" width="4.2" height="4.2"/>
<rect x="225" y="538.37" width="4.2" height="4.2"/>
<rect x="229.9" y="536.77" width="4.2" height="4.2"/>
<rect x="234.8" y="535.13" width="4.2" height="4.2"/>
<rect x="239.7" y="533.5" width="4.2" height="4.2"/>
<rect x="244.6" y="531.87" width="4.2" height="4.2"/>
<rect x="249.5" y="530.23" width="4.2" height="4.2"/>
<rect x="254.4" y="528.6" width="4.2" height="4.2"/>
<rect x="259.3" y="526.97" width="4.2" height="4.2"/>
<rect x="264.2" y="525.51" width="4.2" height="4.2"/>
<rect x="269.1" y="524.08" width="4.2" height="4.2"/>
<rect x="274" y="522.64" width="4.2" height="4.2"/>
<rect x="278.9" y="521.31" width="4.2" height="4.2"/>
<rect x="283.8" y="520.36" width="4.2" height="4.2"/>
<rect x="288.7" y="519.41" width="4.2" height="4.2"/>
<rect x="293.6" y="518.5" width="4.2" height="4.2"/>
</g>
<polyline points="36,571.8 40.9,571.24 45.8,570.68 50.7,570.08 55.6,569.26 60.5,568.43 65.4,567.42 70.3,565.83 75.2,564.04 80.1,561.4 85,557.15 89.9,553.1 94.8,547.91 99.7,542.82 104.6,536.68 109.5,529.99 114.4,523.21 119.3,515.85 124.2,506.5 129.1,498.52 134,489.95 138.9,478.28 143.8,468.14 148.7,459.34 153.6,447.91 158.5,436.12 163.4,423.75 168.3,411.91 173.2,399.47 178.1,386.29 183,374.64 187.9,361.69 192.8,346.33 197.7,333.08 202.6,318.12" fill="none" stroke="#3e6fb5" stroke-width="1.25" stroke-dasharray="1.2 1.6"/>
<g fill="#fff" stroke="#3e6fb5" stroke-width="0.9">
<rect x="33.8" y="569.6" width="4.4" height="4.4"/>
<rect x="38.7" y="569.04" width="4.4" height="4.4"/>
<rect x="43.6" y="568.48" width="4.4" height="4.4"/>
<rect x="48.5" y="567.88" width="4.4" height="4.4"/>
<rect x="53.4" y="567.06" width="4.4" height="4.4"/>
<rect x="58.3" y="566.23" width="4.4" height="4.4"/>
<rect x="63.2" y="565.22" width="4.4" height="4.4"/>
<rect x="68.1" y="563.63" width="4.4" height="4.4"/>
<rect x="73" y="561.84" width="4.4" height="4.4"/>
<rect x="77.9" y="559.2" width="4.4" height="4.4"/>
<rect x="82.8" y="554.95" width="4.4" height="4.4"/>
<rect x="87.7" y="550.9" width="4.4" height="4.4"/>
<rect x="92.6" y="545.71" width="4.4" height="4.4"/>
<rect x="97.5" y="540.62" width="4.4" height="4.4"/>
<rect x="102.4" y="534.48" width="4.4" height="4.4"/>
<rect x="107.3" y="527.79" width="4.4" height="4.4"/>
<rect x="112.2" y="521.01" width="4.4" height="4.4"/>
<rect x="117.1" y="513.65" width="4.4" height="4.4"/>
<rect x="122" y="504.3" width="4.4" height="4.4"/>
<rect x="126.9" y="496.32" width="4.4" height="4.4"/>
<rect x="131.8" y="487.75" width="4.4" height="4.4"/>
<rect x="136.7" y="476.08" width="4.4" height="4.4"/>
<rect x="141.6" y="465.94" width="4.4" height="4.4"/>
<rect x="146.5" y="457.14" width="4.4" height="4.4"/>
<rect x="151.4" y="445.71" width="4.4" height="4.4"/>
<rect x="156.3" y="433.92" width="4.4" height="4.4"/>
<rect x="161.2" y="421.55" width="4.4" height="4.4"/>
<rect x="166.1" y="409.71" width="4.4" height="4.4"/>
<rect x="171" y="397.27" width="4.4" height="4.4"/>
<rect x="175.9" y="384.09" width="4.4" height="4.4"/>
<rect x="180.8" y="372.44" width="4.4" height="4.4"/>
<rect x="185.7" y="359.49" width="4.4" height="4.4"/>
<rect x="190.6" y="344.13" width="4.4" height="4.4"/>
<rect x="195.5" y="330.88" width="4.4" height="4.4"/>
<rect x="200.4" y="315.92" width="4.4" height="4.4"/>
</g>
<polyline points="36,572.9 40.9,572.87 45.8,572.83 50.7,572.76 55.6,572.5 60.5,572.24 65.4,571.91 70.3,570.75 75.2,569.28 80.1,566.97 85,564.18 89.9,560.46 94.8,556.48 99.7,552.2 104.6,547.15 109.5,540.49 114.4,534.18 119.3,528.02 124.2,521.15 129.1,513.66 134,506.69 138.9,499.04 143.8,489.97 148.7,481.74 153.6,473.03 158.5,464.7 163.4,455.02 168.3,446.22 173.2,436.96 178.1,428.56 183,420.03 187.9,410.55 192.8,401.29 197.7,391.96 202.6,381.98 207.5,372.74 212.4,363.38 217.3,354.5 222.2,345.48 227.1,336.27 232,327.09 236.9,319.7" fill="none" stroke="#e03a3a" stroke-width="1"/>
<g fill="#e03a3a">
<rect x="33.5" y="570.4" width="5" height="5"/>
<rect x="38.4" y="570.37" width="5" height="5"/>
<rect x="43.3" y="570.33" width="5" height="5"/>
<rect x="48.2" y="570.26" width="5" height="5"/>
<rect x="53.1" y="570" width="5" height="5"/>
<rect x="58" y="569.74" width="5" height="5"/>
<rect x="62.9" y="569.41" width="5" height="5"/>
<rect x="67.8" y="568.25" width="5" height="5"/>
<rect x="72.7" y="566.78" width="5" height="5"/>
<rect x="77.6" y="564.47" width="5" height="5"/>
<rect x="82.5" y="561.68" width="5" height="5"/>
<rect x="87.4" y="557.96" width="5" height="5"/>
<rect x="92.3" y="553.98" width="5" height="5"/>
<rect x="97.2" y="549.7" width="5" height="5"/>
<rect x="102.1" y="544.65" width="5" height="5"/>
<rect x="107" y="537.99" width="5" height="5"/>
<rect x="111.9" y="531.68" width="5" height="5"/>
<rect x="116.8" y="525.52" width="5" height="5"/>
<rect x="121.7" y="518.65" width="5" height="5"/>
<rect x="126.6" y="511.16" width="5" height="5"/>
<rect x="131.5" y="504.19" width="5" height="5"/>
<rect x="136.4" y="496.54" width="5" height="5"/>
<rect x="141.3" y="487.47" width="5" height="5"/>
<rect x="146.2" y="479.24" width="5" height="5"/>
<rect x="151.1" y="470.53" width="5" height="5"/>
<rect x="156" y="462.2" width="5" height="5"/>
<rect x="160.9" y="452.52" width="5" height="5"/>
<rect x="165.8" y="443.72" width="5" height="5"/>
<rect x="170.7" y="434.46" width="5" height="5"/>
<rect x="175.6" y="426.06" width="5" height="5"/>
<rect x="180.5" y="417.53" width="5" height="5"/>
<rect x="185.4" y="408.05" width="5" height="5"/>
<rect x="190.3" y="398.79" width="5" height="5"/>
<rect x="195.2" y="389.46" width="5" height="5"/>
<rect x="200.1" y="379.48" width="5" height="5"/>
<rect x="205" y="370.24" width="5" height="5"/>
<rect x="209.9" y="360.88" width="5" height="5"/>
<rect x="214.8" y="352" width="5" height="5"/>
<rect x="219.7" y="342.98" width="5" height="5"/>
<rect x="224.6" y="333.77" width="5" height="5"/>
<rect x="229.5" y="324.59" width="5" height="5"/>
<rect x="234.4" y="317.2" width="5" height="5"/>
</g>
</g>
<line x1="37.5" y1="323.7" x2="65.5" y2="323.7" stroke="#e03a3a" stroke-width="1" />
<rect x="49.4" y="321.2" width="5" height="5" fill="#e03a3a"/>
<line x1="37.5" y1="341.2" x2="65.5" y2="341.2" stroke="#3e6fb5" stroke-width="1" stroke-dasharray="1 1.3"/>
<rect x="49.6" y="338.9" width="4.6" height="4.6" fill="#fff" stroke="#3e6fb5" stroke-width="1"/>
<line x1="37.5" y1="360.4" x2="65.5" y2="360.4" stroke="#f9dc9a" stroke-width="1" stroke-dasharray="1 1.3"/>
<rect x="49.6" y="358.1" width="4.6" height="4.6" fill="#fff" stroke="#f8d68c" stroke-width="1"/>
<text x="69.6" y="327.7" font-size="11.2" text-anchor="start" fill="#000" >Locally alkaline AEMWE</text>
<text x="69.6" y="345.2" font-size="11.2" text-anchor="start" fill="#000" >KOH-fed AEMWE</text>
<text x="69.6" y="364.1" font-size="11.2" text-anchor="start" fill="#000" >Pristine AEMWE</text>
<text transform="translate(194,568.4) scale(1,1.03)" x="0" y="0" font-size="11.2" text-anchor="start" fill="#000" >Sustainion, 60 °C</text>
<text x="348" y="321.2" font-size="15.5" text-anchor="start" fill="#000" >d</text>
<text x="348.4" y="447.8" font-size="15.5" text-anchor="start" fill="#000" >e</text>
<path d="M388.5,313.5 H684.5 V572 H388.5 Z" stroke="#333" stroke-width="1" fill="none"/>
<line x1="388.5" y1="441.8" x2="684.5" y2="441.8" stroke="#333" stroke-width="1" />
<line x1="384" y1="434" x2="388.5" y2="434" stroke="#333" stroke-width="1" />
<text transform="translate(380.2,438.4) scale(1,1.08)" x="0" y="0" font-size="12.5" text-anchor="end" fill="#000" >3</text>
<line x1="384" y1="406.49" x2="388.5" y2="406.49" stroke="#333" stroke-width="1" />
<text transform="translate(380.2,410.89) scale(1,1.08)" x="0" y="0" font-size="12.5" text-anchor="end" fill="#000" >6</text>
<line x1="384" y1="378.98" x2="388.5" y2="378.98" stroke="#333" stroke-width="1" />
<text transform="translate(380.2,383.38) scale(1,1.08)" x="0" y="0" font-size="12.5" text-anchor="end" fill="#000" >9</text>
<line x1="384" y1="351.47" x2="388.5" y2="351.47" stroke="#333" stroke-width="1" />
<text transform="translate(380.2,355.87) scale(1,1.08)" x="0" y="0" font-size="12.5" text-anchor="end" fill="#000" >12</text>
<line x1="384" y1="323.96" x2="388.5" y2="323.96" stroke="#333" stroke-width="1" />
<text transform="translate(380.2,328.36) scale(1,1.08)" x="0" y="0" font-size="12.5" text-anchor="end" fill="#000" >15</text>
<line x1="386.5" y1="420.25" x2="388.5" y2="420.25" stroke="#333" stroke-width="1" />
<line x1="386.5" y1="392.74" x2="388.5" y2="392.74" stroke="#333" stroke-width="1" />
<line x1="386.5" y1="365.23" x2="388.5" y2="365.23" stroke="#333" stroke-width="1" />
<line x1="386.5" y1="337.72" x2="388.5" y2="337.72" stroke="#333" stroke-width="1" />
<line x1="384" y1="558.8" x2="388.5" y2="558.8" stroke="#333" stroke-width="1" />
<text transform="translate(380.2,563.2) scale(1,1.08)" x="0" y="0" font-size="12.5" text-anchor="end" fill="#000" >10</text>
<line x1="384" y1="507.2" x2="388.5" y2="507.2" stroke="#333" stroke-width="1" />
<text transform="translate(380.2,511.6) scale(1,1.08)" x="0" y="0" font-size="12.5" text-anchor="end" fill="#000" >12</text>
<line x1="384" y1="455.6" x2="388.5" y2="455.6" stroke="#333" stroke-width="1" />
<text transform="translate(380.2,460) scale(1,1.08)" x="0" y="0" font-size="12.5" text-anchor="end" fill="#000" >14</text>
<line x1="386.5" y1="533" x2="388.5" y2="533" stroke="#333" stroke-width="1" />
<line x1="386.5" y1="481.4" x2="388.5" y2="481.4" stroke="#333" stroke-width="1" />
<line x1="417.6" y1="572" x2="417.6" y2="576" stroke="#333" stroke-width="1" />
<line x1="417.6" y1="437.5" x2="417.6" y2="445.5" stroke="#333" stroke-width="1" />
<text transform="translate(417.6,590.4) scale(1,1.08)" x="0" y="0" font-size="12.2" text-anchor="middle" fill="#000" >0.0</text>
<line x1="477.1" y1="572" x2="477.1" y2="576" stroke="#333" stroke-width="1" />
<line x1="477.1" y1="437.5" x2="477.1" y2="445.5" stroke="#333" stroke-width="1" />
<text transform="translate(477.1,590.4) scale(1,1.08)" x="0" y="0" font-size="12.2" text-anchor="middle" fill="#000" >0.5</text>
<line x1="536.6" y1="572" x2="536.6" y2="576" stroke="#333" stroke-width="1" />
<line x1="536.6" y1="437.5" x2="536.6" y2="445.5" stroke="#333" stroke-width="1" />
<text transform="translate(536.6,590.4) scale(1,1.08)" x="0" y="0" font-size="12.2" text-anchor="middle" fill="#000" >1.0</text>
<line x1="596.1" y1="572" x2="596.1" y2="576" stroke="#333" stroke-width="1" />
<line x1="596.1" y1="437.5" x2="596.1" y2="445.5" stroke="#333" stroke-width="1" />
<text transform="translate(596.1,590.4) scale(1,1.08)" x="0" y="0" font-size="12.2" text-anchor="middle" fill="#000" >1.5</text>
<line x1="655.6" y1="572" x2="655.6" y2="576" stroke="#333" stroke-width="1" />
<line x1="655.6" y1="437.5" x2="655.6" y2="445.5" stroke="#333" stroke-width="1" />
<text transform="translate(655.6,590.4) scale(1,1.08)" x="0" y="0" font-size="12.2" text-anchor="middle" fill="#000" >2.0</text>
<line x1="447.35" y1="572" x2="447.35" y2="574.5" stroke="#333" stroke-width="1" />
<line x1="447.35" y1="439" x2="447.35" y2="444" stroke="#333" stroke-width="1" />
<line x1="506.85" y1="572" x2="506.85" y2="574.5" stroke="#333" stroke-width="1" />
<line x1="506.85" y1="439" x2="506.85" y2="444" stroke="#333" stroke-width="1" />
<line x1="566.35" y1="572" x2="566.35" y2="574.5" stroke="#333" stroke-width="1" />
<line x1="566.35" y1="439" x2="566.35" y2="444" stroke="#333" stroke-width="1" />
<line x1="625.85" y1="572" x2="625.85" y2="574.5" stroke="#333" stroke-width="1" />
<line x1="625.85" y1="439" x2="625.85" y2="444" stroke="#333" stroke-width="1" />
<text x="0" y="0" font-size="12" text-anchor="middle" fill="#000" transform="translate(359.1,377.6) rotate(-90)">Local pH<tspan dy="3" font-size="7.7">anode</tspan></text>
<text x="0" y="0" font-size="12" text-anchor="middle" fill="#000" transform="translate(359.4,506.5) rotate(-90)">Local pH<tspan dy="3" font-size="7.7">cathode</tspan></text>
<text transform="translate(586.8,606.8) scale(1,1.05)" x="0" y="0" font-size="11.8" text-anchor="end" fill="#000" ><tspan font-style="italic">J</tspan> @ 1.9 V (A cm<tspan dy="-4" font-size="7.5">-2</tspan><tspan dy="4">)</tspan></text>
<circle cx="511.3" cy="337.4" r="4.4" fill="#dd3c3c"/>
<circle cx="570.8" cy="334.2" r="4.4" fill="#4a7fc4"/>
<path d="M581,328.48 L585.72,337.09 L576.28,337.09 Z" fill="#dd3c3c"/>
<rect x="612.6" y="331.4" width="8.2" height="8.2" fill="#dd3c3c"/>
<path d="M638.3,327.58 L643.01,336.19 L633.58,336.19 Z" fill="#4a7fc4"/>
<rect x="668.2" y="329.3" width="8.2" height="8.2" fill="#4a7fc4"/>
<circle cx="430.5" cy="428.3" r="3.8" fill="none" stroke="#f2bf1c" stroke-width="1.5"/>
<path d="M437.2,419.4 L441.22,426.75 L433.18,426.75 Z" fill="none" stroke="#f2bf1c" stroke-width="1.5"/>
<rect x="437.7" y="424.3" width="7" height="7" fill="none" stroke="#f2bf1c" stroke-width="1.5"/>
<circle cx="511.2" cy="455.9" r="4.4" fill="#dd3c3c"/>
<circle cx="570.6" cy="452.6" r="4.4" fill="#4a7fc4"/>
<path d="M580.9,453.88 L585.62,462.49 L576.18,462.49 Z" fill="#dd3c3c"/>
<rect x="613" y="455.3" width="8.2" height="8.2" fill="#dd3c3c"/>
<path d="M638.2,447.08 L642.92,455.69 L633.49,455.69 Z" fill="#4a7fc4"/>
<rect x="668" y="449.4" width="8.2" height="8.2" fill="#4a7fc4"/>
<circle cx="430" cy="543.2" r="3.8" fill="none" stroke="#f2bf1c" stroke-width="1.5"/>
<path d="M437.4,546.4 L441.42,553.75 L433.38,553.75 Z" fill="none" stroke="#f2bf1c" stroke-width="1.5"/>
<rect x="437.7" y="546.5" width="7" height="7" fill="none" stroke="#f2bf1c" stroke-width="1.5"/>
<text x="571.6" y="326.1" font-size="12" text-anchor="start" fill="#4a7fc4" >KOH-fed AEMWE</text>
<text x="497.5" y="355.8" font-size="12" text-anchor="start" fill="#dd3c3c" >Locally alkaline AEMWE</text>
<text x="392.8" y="417.4" font-size="12" text-anchor="start" fill="#f2bf1c" >Pristine AEMWE</text>
<rect x="575.3" y="526.8" width="8.2" height="8.2" fill="#dd3c3c"/>
<rect x="590.6" y="526.8" width="8.2" height="8.2" fill="#4a7fc4"/>
<rect x="606.8" y="527.4" width="7" height="7" fill="none" stroke="#f2bf1c" stroke-width="1.5"/>
<text x="622" y="535.1" font-size="11.5" text-anchor="start" fill="#000" >Sustainion</text>
<path d="M579.4,541.28 L584.12,549.89 L574.68,549.89 Z" fill="#dd3c3c"/>
<path d="M594.7,541.28 L599.42,549.89 L589.99,549.89 Z" fill="#4a7fc4"/>
<path d="M610.3,542 L614.32,549.35 L606.27,549.35 Z" fill="none" stroke="#f2bf1c" stroke-width="1.5"/>
<text x="622" y="550.4" font-size="11.5" text-anchor="start" fill="#000" >AEMION<tspan dy="-4.5" font-size="7.5">TM</tspan></text>
<circle cx="579.4" cy="563" r="4.4" fill="#dd3c3c"/>
<circle cx="594.7" cy="563" r="4.4" fill="#4a7fc4"/>
<circle cx="610.3" cy="563" r="3.8" fill="none" stroke="#f2bf1c" stroke-width="1.5"/>
<text x="622" y="567.2" font-size="11.5" text-anchor="start" fill="#000" >FAA</text>
</svg></body></html>
